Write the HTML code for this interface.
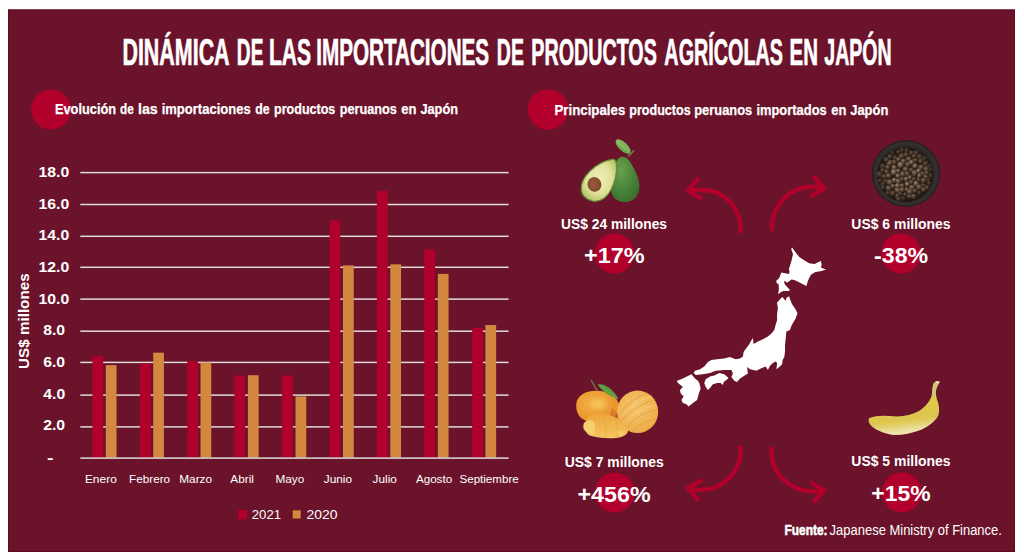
<!DOCTYPE html>
<html lang="es">
<head>
<meta charset="utf-8">
<title>Dinámica de las importaciones de productos agrícolas en Japón</title>
<style>
html,body{margin:0;padding:0;background:#fff;}
body{width:1024px;height:560px;overflow:hidden;position:relative;}
svg{position:absolute;left:0;top:0;display:block;}
text{font-family:"Liberation Sans",Arial,sans-serif;fill:#fff;}
.b{font-weight:bold;}
</style>
</head>
<body>
<svg width="1024" height="560" viewBox="0 0 1024 560">
<rect x="8" y="9.5" width="1007" height="542.5" fill="#6a132b"/>
<rect x="8.5" y="10" width="1006" height="541.5" fill="none" stroke="#5e0b22" stroke-width="1"/>
<text class="b" y="64.8" font-size="36.3" stroke="#fff" stroke-width="0.7"><tspan x="122.43" textLength="106.38" lengthAdjust="spacingAndGlyphs">DINÁMICA</tspan> <tspan x="236.87" textLength="26.52" lengthAdjust="spacingAndGlyphs">DE</tspan> <tspan x="268.94" textLength="42.13" lengthAdjust="spacingAndGlyphs">LAS</tspan> <tspan x="316.18" textLength="172.97" lengthAdjust="spacingAndGlyphs">IMPORTACIONES</tspan> <tspan x="496.85" textLength="27.06" lengthAdjust="spacingAndGlyphs">DE</tspan> <tspan x="531.34" textLength="125.48" lengthAdjust="spacingAndGlyphs">PRODUCTOS</tspan> <tspan x="664.36" textLength="118.56" lengthAdjust="spacingAndGlyphs">AGRÍCOLAS</tspan> <tspan x="789.48" textLength="28.45" lengthAdjust="spacingAndGlyphs">EN</tspan> <tspan x="824.25" textLength="67.41" lengthAdjust="spacingAndGlyphs">JAPÓN</tspan></text>
<circle cx="51" cy="109.6" r="20" fill="#b1002b"/>
<text class="b" y="113.9" font-size="15.2" stroke="#fff" stroke-width="0.25"><tspan x="54.94" textLength="61.15" lengthAdjust="spacingAndGlyphs">Evolución</tspan> <tspan x="120.02" textLength="13.68" lengthAdjust="spacingAndGlyphs">de</tspan> <tspan x="138.01" textLength="19.78" lengthAdjust="spacingAndGlyphs">las</tspan> <tspan x="161.69" textLength="88.94" lengthAdjust="spacingAndGlyphs">importaciones</tspan> <tspan x="255.29" textLength="14.43" lengthAdjust="spacingAndGlyphs">de</tspan> <tspan x="274.07" textLength="61.24" lengthAdjust="spacingAndGlyphs">productos</tspan> <tspan x="339.66" textLength="57.26" lengthAdjust="spacingAndGlyphs">peruanos</tspan> <tspan x="401.29" textLength="15.22" lengthAdjust="spacingAndGlyphs">en</tspan> <tspan x="420.41" textLength="37.58" lengthAdjust="spacingAndGlyphs">Japón</tspan></text>
<circle cx="548" cy="109.5" r="20.2" fill="#b1002b"/>
<text class="b" y="114.7" font-size="15.2" stroke="#fff" stroke-width="0.25"><tspan x="554.41" textLength="70.93" lengthAdjust="spacingAndGlyphs">Principales</tspan> <tspan x="629.27" textLength="61.44" lengthAdjust="spacingAndGlyphs">productos</tspan> <tspan x="694.25" textLength="57.98" lengthAdjust="spacingAndGlyphs">peruanos</tspan> <tspan x="756.4" textLength="70.33" lengthAdjust="spacingAndGlyphs">importados</tspan> <tspan x="831.19" textLength="15.11" lengthAdjust="spacingAndGlyphs">en</tspan> <tspan x="850.2" textLength="38.1" lengthAdjust="spacingAndGlyphs">Japón</tspan></text>
<g fill="#dedbd9">
<rect x="80.3" y="171.85" width="428.3" height="1.5"/>
<rect x="80.3" y="203.75" width="428.3" height="1.5"/>
<rect x="80.3" y="235.55" width="428.3" height="1.5"/>
<rect x="80.3" y="266.55" width="428.3" height="1.5"/>
<rect x="80.3" y="298.35" width="428.3" height="1.5"/>
<rect x="80.3" y="330.45" width="428.3" height="1.5"/>
<rect x="80.3" y="361.65" width="428.3" height="1.5"/>
<rect x="80.3" y="394.35" width="428.3" height="1.5"/>
<rect x="80.3" y="426.15" width="428.3" height="1.5"/>
</g>
<rect x="92.4" y="356.2" width="10.75" height="101.4" fill="#b1002b"/>
<rect x="105.8" y="365.1" width="10.75" height="92.5" fill="#d4873f"/>
<rect x="140.0" y="363.4" width="10.75" height="94.2" fill="#b1002b"/>
<rect x="153.2" y="352.7" width="10.75" height="104.9" fill="#d4873f"/>
<rect x="187.3" y="361.1" width="10.75" height="96.5" fill="#b1002b"/>
<rect x="200.5" y="362.5" width="10.75" height="95.1" fill="#d4873f"/>
<rect x="234.4" y="375.5" width="10.75" height="82.1" fill="#b1002b"/>
<rect x="247.9" y="375.2" width="10.75" height="82.4" fill="#d4873f"/>
<rect x="282.1" y="375.5" width="10.75" height="82.1" fill="#b1002b"/>
<rect x="295.5" y="396.4" width="10.75" height="61.2" fill="#d4873f"/>
<rect x="329.6" y="220.4" width="10.75" height="237.2" fill="#b1002b"/>
<rect x="343.0" y="265.4" width="10.75" height="192.2" fill="#d4873f"/>
<rect x="376.9" y="190.9" width="10.75" height="266.7" fill="#b1002b"/>
<rect x="390.3" y="264.3" width="10.75" height="193.3" fill="#d4873f"/>
<rect x="424.3" y="249.3" width="10.75" height="208.3" fill="#b1002b"/>
<rect x="437.8" y="273.9" width="10.75" height="183.7" fill="#d4873f"/>
<rect x="472.2" y="327.9" width="10.75" height="129.7" fill="#b1002b"/>
<rect x="485.4" y="325.0" width="10.75" height="132.6" fill="#d4873f"/>
<rect x="80.3" y="457.35" width="428.3" height="1.5" fill="#dedbd9"/>
<text class="b" x="38.54" y="176.9" font-size="15.5" textLength="30.77" lengthAdjust="spacingAndGlyphs">18.0</text>
<text class="b" x="38.54" y="208.5" font-size="15.5" textLength="30.77" lengthAdjust="spacingAndGlyphs">16.0</text>
<text class="b" x="38.54" y="240.0" font-size="15.5" textLength="30.77" lengthAdjust="spacingAndGlyphs">14.0</text>
<text class="b" x="38.54" y="271.6" font-size="15.5" textLength="30.77" lengthAdjust="spacingAndGlyphs">12.0</text>
<text class="b" x="38.54" y="304.1" font-size="15.5" textLength="30.77" lengthAdjust="spacingAndGlyphs">10.0</text>
<text class="b" x="43.18" y="335.0" font-size="15.5" textLength="21.98" lengthAdjust="spacingAndGlyphs">8.0</text>
<text class="b" x="43.15" y="366.7" font-size="15.5" textLength="21.98" lengthAdjust="spacingAndGlyphs">6.0</text>
<text class="b" x="43.32" y="399.3" font-size="15.5" textLength="21.98" lengthAdjust="spacingAndGlyphs">4.0</text>
<text class="b" x="43.16" y="430.4" font-size="15.5" textLength="21.98" lengthAdjust="spacingAndGlyphs">2.0</text>
<text class="b" x="47.13" y="462.5" font-size="15.5" textLength="6.56" lengthAdjust="spacingAndGlyphs">-</text>
<g transform="translate(29.4,321) rotate(-90)"><text class="b" x="-47.91" y="0" font-size="15.1" textLength="95.54" lengthAdjust="spacingAndGlyphs">US$ millones</text></g>
<text x="84.92" y="483.1" font-size="11.7" textLength="31.88" lengthAdjust="spacingAndGlyphs">Enero</text>
<text x="129.04" y="483.1" font-size="11.7" textLength="41.05" lengthAdjust="spacingAndGlyphs">Febrero</text>
<text x="179.23" y="483.1" font-size="11.7" textLength="32.87" lengthAdjust="spacingAndGlyphs">Marzo</text>
<text x="230.38" y="483.1" font-size="11.7" textLength="23.61" lengthAdjust="spacingAndGlyphs">Abril</text>
<text x="275.43" y="483.1" font-size="11.7" textLength="28.86" lengthAdjust="spacingAndGlyphs">Mayo</text>
<text x="323.71" y="483.1" font-size="11.7" textLength="28.38" lengthAdjust="spacingAndGlyphs">Junio</text>
<text x="372.51" y="483.1" font-size="11.7" textLength="24.38" lengthAdjust="spacingAndGlyphs">Julio</text>
<text x="415.88" y="483.1" font-size="11.7" textLength="36.31" lengthAdjust="spacingAndGlyphs">Agosto</text>
<text x="459.47" y="483.1" font-size="11.7" textLength="59.24" lengthAdjust="spacingAndGlyphs">Septiembre</text>
<rect x="238.2" y="510" width="8.7" height="9.3" fill="#b1002b"/>
<rect x="292.7" y="510.3" width="8" height="8.2" fill="#d4873f"/>
<text x="251.74" y="518.9" font-size="13.7" textLength="29.31" lengthAdjust="spacingAndGlyphs">2021</text>
<text x="306.4" y="518.9" font-size="13.7" textLength="31.05" lengthAdjust="spacingAndGlyphs">2020</text>
<!-- arrows -->
<g fill="none" stroke="#b1002b" stroke-width="4.4" stroke-linecap="round" stroke-linejoin="round">
<path d="M740.6,231.3 C741.5,208 724,190 703,190 Q695,190.1 687.6,190.7"/>
<path d="M697.6,179.4 L687.6,190.7 L700.4,198.1"/>
<path d="M771.9,229.5 C771.5,205 790,187 812,186.8 Q819,187 824.4,188.5"/>
<path d="M814.6,177.4 L824.4,188.5 L811.3,195.8"/>
<path d="M740.3,446.9 C742.5,472 722,490.5 700,489.9 Q693,489.6 687.9,488"/>
<path d="M700.5,480.8 L687.9,488 L697.6,499.1"/>
<path d="M771.6,448.7 C770,475 792,491.5 813,491.4 Q819,491.2 824.4,490.3"/>
<path d="M811.6,482.9 L824.4,490.3 L814.4,501.2"/>
</g>

<!-- map of Japan -->
<g fill="#ffffff">
<path d="M792.1,247.5 L795.7,252.5 L799.3,257 L804.6,260.5 L809.1,263.2 L814.5,264.1 L820.7,261.1 L821.6,264.1 L821.1,267.7 L826.1,269.5 L820.7,271.3 L815.4,272.1 L810.9,274.8 L808.6,279.3 L807.1,283.6 L806.4,286.1 L802.9,284.3 L798.6,282.1 L794.3,280 L791.4,279.6 L788.6,281.8 L786.4,282.5 L785,281.1 L783.9,281.8 L785,284.6 L787.1,287.1 L789.6,289.6 L789.3,291.1 L783.2,291.1 L780.4,292.5 L778.2,294.3 L778.9,288.6 L778.6,284.6 L776.8,282.9 L776.1,281.1 L779.3,277.9 L780.4,275 L781.4,272.5 L785,273.2 L788.9,273.9 L789.6,272.1 L788.9,268.9 L791.3,261.4 L793,254.3 L791.2,249 Z"/>
<path d="M776.8,302.9 L780.7,298.6 L782.5,297.1 L785.4,300.7 L787.1,297.1 L789.3,296.4 L790,299.3 L792.1,304.3 L795.7,309.6 L797.5,313.2 L795.7,318.6 L793.5,322 L791.4,325.7 L790,330 L786.4,331.4 L785.7,338.6 L785,345.7 L785,351.4 L784.3,357.1 L782.6,360 L782.1,364.3 L779.3,367.1 L776.4,369.3 L777.1,362.9 L775.7,361.4 L772.9,362.9 L770,365.7 L767.9,370 L765.7,366.4 L760.7,368.6 L756.4,370.7 L750,369.3 L747.1,367.1 L747.9,373.6 L744.3,375.7 L740,378.6 L737.1,382.1 L734.3,380.7 L731.4,377.1 L732.9,373.6 L731.4,370 L724.3,370 L715.7,370.7 L710,372.9 L702.9,374.3 L695.7,375 L693.6,372.9 L695,370.7 L700,369.3 L704.3,366.4 L707.9,362.1 L711.4,360 L717.1,359.3 L724.3,358.6 L730,357.1 L735.7,359.3 L740,358.6 L742.9,356.4 L743.6,352.1 L746.4,347.9 L749.3,344.3 L751.1,340.7 L752.9,337.9 L753.6,344 L757.9,341.4 L762.9,339.3 L767.9,336.4 L771.4,333.6 L774.3,330 L775.4,325.7 L777.1,320 L777,315 L777.9,307.9 L777,302.5 Z"/>
<path d="M705.7,379.3 L710,376.4 L714.3,375.4 L719.3,372.9 L724.3,374.3 L728.6,377.9 L726.4,380 L723.6,382.1 L722.9,385 L720.7,382.9 L717.1,382.9 L712.9,384.3 L710,387.9 L707.9,390 L705.7,387.1 L704.3,382.9 Z"/>
<path d="M677.1,380.7 L682.9,378.6 L691.4,374.3 L695,378.6 L697.9,380.7 L699.3,382.9 L700.7,388.6 L698.6,394.3 L697.1,400 L692.9,402.9 L688.6,406.4 L686.4,404.3 L682.9,402.9 L681.4,400 L683.6,396.4 L680.7,393.6 L680,390 L682.9,387.1 L678.6,383.6 L677.1,382.1 Z"/>
</g>


<!-- PRODUCT IMAGES -->
<defs>
 <radialGradient id="avoSkin" cx="0.35" cy="0.3" r="0.85">
   <stop offset="0" stop-color="#6a9f4c"/>
   <stop offset="0.55" stop-color="#478338"/>
   <stop offset="1" stop-color="#36672b"/>
 </radialGradient>
 <radialGradient id="avoFlesh" cx="0.5" cy="0.45" r="0.6">
   <stop offset="0" stop-color="#f0edb6"/>
   <stop offset="0.6" stop-color="#e2e19a"/>
   <stop offset="1" stop-color="#b0c266"/>
 </radialGradient>
 <radialGradient id="avoSeed" cx="0.45" cy="0.45" r="0.6">
   <stop offset="0" stop-color="#a2573b"/>
   <stop offset="1" stop-color="#7a4a2e"/>
 </radialGradient>
 <linearGradient id="leafG" x1="0" y1="0" x2="1" y2="1">
   <stop offset="0" stop-color="#8cc468"/>
   <stop offset="1" stop-color="#62a045"/>
 </linearGradient>
 <radialGradient id="pc1" cx="0.38" cy="0.33" r="0.72">
   <stop offset="0" stop-color="#a08a76"/>
   <stop offset="0.5" stop-color="#65503f"/>
   <stop offset="1" stop-color="#241a14"/>
 </radialGradient>
 <radialGradient id="pc2" cx="0.38" cy="0.33" r="0.72">
   <stop offset="0" stop-color="#8a735f"/>
   <stop offset="0.5" stop-color="#564333"/>
   <stop offset="1" stop-color="#1f1611"/>
 </radialGradient>
 <radialGradient id="pc3" cx="0.38" cy="0.33" r="0.72">
   <stop offset="0" stop-color="#756252"/>
   <stop offset="0.5" stop-color="#4a392d"/>
   <stop offset="1" stop-color="#1c1510"/>
 </radialGradient>
 <radialGradient id="pepVig" cx="0.5" cy="0.5" r="0.5">
   <stop offset="0.6" stop-color="#140e0b" stop-opacity="0"/>
   <stop offset="1" stop-color="#140e0b" stop-opacity="0.55"/>
 </radialGradient>
 <radialGradient id="bowlG" cx="0.5" cy="0.5" r="0.5">
   <stop offset="0.78" stop-color="#2a2527"/>
   <stop offset="0.92" stop-color="#36302f"/>
   <stop offset="1" stop-color="#1f1b1d"/>
 </radialGradient>
 <radialGradient id="manL" cx="0.4" cy="0.38" r="0.75">
   <stop offset="0" stop-color="#f3b449"/>
   <stop offset="0.55" stop-color="#ec9c30"/>
   <stop offset="1" stop-color="#e48c26"/>
 </radialGradient>
 <radialGradient id="manR" cx="0.45" cy="0.4" r="0.7">
   <stop offset="0" stop-color="#f5c66e"/>
   <stop offset="0.7" stop-color="#f0b24f"/>
   <stop offset="1" stop-color="#e9a445"/>
 </radialGradient>
 <radialGradient id="manHi" cx="0.5" cy="0.5" r="0.5">
   <stop offset="0" stop-color="#f8cc62" stop-opacity="0.85"/>
   <stop offset="1" stop-color="#f8cc62" stop-opacity="0"/>
 </radialGradient>
 <linearGradient id="segG" x1="0" y1="0" x2="0" y2="1">
   <stop offset="0" stop-color="#efa73c"/>
   <stop offset="1" stop-color="#f4c563"/>
 </linearGradient>
 <linearGradient id="banG" x1="0" y1="0" x2="0.15" y2="1">
   <stop offset="0" stop-color="#ddd27c"/>
   <stop offset="0.4" stop-color="#e0cb48"/>
   <stop offset="0.78" stop-color="#dcc452"/>
   <stop offset="1" stop-color="#efe5ac"/>
 </linearGradient>
</defs>

<g id="avocado">
 <path d="M628.5,156 L633.8,150.8" stroke="#7d8a4e" stroke-width="1.3" fill="none" stroke-linecap="round"/>
 <ellipse cx="623.2" cy="146.6" rx="9.6" ry="4.2" transform="rotate(43 623.2 146.6)" fill="url(#leafG)"/>
 <path d="M617.5,142 Q623,147 628.8,151.5" stroke="#a9d48a" stroke-width="0.6" fill="none"/>
 <path d="M621.25,156.9 C616,158 614,166 612.5,175 C611,183 610.5,192 613,196 C616,201 622,202.5 627,202 C634,201 638.5,196 639.4,188 C640,180 636,172 632,165 C629.5,160 626,156.5 621.25,156.9 Z" fill="url(#avoSkin)"/>
 <path d="M612.5,159.4 C606,160 597,164.5 590,171 C584,177 581,184 581.2,189 C581.5,195 586,199.5 593,201.2 C601,202 607,197 611,190 C615,182 617,172 616.5,165 C616.2,161 615,159.2 612.5,159.4 Z" fill="url(#avoFlesh)" stroke="#5f8f3a" stroke-width="1.2"/>
 <ellipse cx="594.4" cy="184.4" rx="6.9" ry="7.4" transform="rotate(-20 594.4 184.4)" fill="url(#avoSeed)"/>
</g>

<g id="pepper">
 <ellipse cx="906" cy="173.5" rx="34.2" ry="33.4" fill="url(#bowlG)"/>
 <ellipse cx="905.3" cy="174.8" rx="27.8" ry="27" fill="#2a1f19"/>
 <clipPath id="pepClip"><ellipse cx="905.3" cy="174.8" rx="28.2" ry="27.4"/></clipPath>
 <g clip-path="url(#pepClip)">
 <circle cx="912.1" cy="187.8" r="3.2" fill="url(#pc2)"/>
<circle cx="903.4" cy="198.6" r="3.1" fill="url(#pc3)"/>
<circle cx="903.6" cy="161.2" r="3.0" fill="url(#pc2)"/>
<circle cx="889.7" cy="163.0" r="3.3" fill="url(#pc1)"/>
<circle cx="920.0" cy="156.6" r="3.2" fill="url(#pc2)"/>
<circle cx="885.4" cy="181.1" r="2.6" fill="url(#pc3)"/>
<circle cx="925.9" cy="163.5" r="3.4" fill="url(#pc2)"/>
<circle cx="907.5" cy="184.3" r="2.7" fill="url(#pc1)"/>
<circle cx="894.2" cy="167.4" r="2.6" fill="url(#pc1)"/>
<circle cx="894.3" cy="180.3" r="2.5" fill="url(#pc1)"/>
<circle cx="915.1" cy="166.1" r="2.8" fill="url(#pc1)"/>
<circle cx="922.9" cy="173.8" r="2.8" fill="url(#pc3)"/>
<circle cx="919.1" cy="193.3" r="2.5" fill="url(#pc2)"/>
<circle cx="921.2" cy="167.6" r="3.0" fill="url(#pc2)"/>
<circle cx="888.5" cy="188.5" r="3.3" fill="url(#pc1)"/>
<circle cx="929.7" cy="166.5" r="2.8" fill="url(#pc3)"/>
<circle cx="906.7" cy="189.6" r="2.6" fill="url(#pc2)"/>
<circle cx="882.7" cy="166.3" r="3.0" fill="url(#pc2)"/>
<circle cx="907.8" cy="164.7" r="2.8" fill="url(#pc2)"/>
<circle cx="879.5" cy="174.5" r="3.3" fill="url(#pc1)"/>
<circle cx="901.7" cy="156.0" r="3.3" fill="url(#pc2)"/>
<circle cx="894.0" cy="172.3" r="3.4" fill="url(#pc1)"/>
<circle cx="902.7" cy="174.2" r="3.2" fill="url(#pc2)"/>
<circle cx="897.6" cy="190.1" r="3.2" fill="url(#pc1)"/>
<circle cx="916.0" cy="183.6" r="3.2" fill="url(#pc1)"/>
<circle cx="913.6" cy="179.1" r="2.5" fill="url(#pc3)"/>
<circle cx="930.5" cy="175.8" r="3.0" fill="url(#pc2)"/>
<circle cx="886.5" cy="171.6" r="3.1" fill="url(#pc2)"/>
<circle cx="895.2" cy="157.7" r="2.7" fill="url(#pc3)"/>
<circle cx="911.6" cy="153.1" r="3.0" fill="url(#pc2)"/>
<circle cx="897.1" cy="195.9" r="2.5" fill="url(#pc1)"/>
<circle cx="898.4" cy="171.1" r="2.7" fill="url(#pc2)"/>
<circle cx="928.1" cy="179.9" r="2.7" fill="url(#pc2)"/>
<circle cx="900.6" cy="165.1" r="3.4" fill="url(#pc1)"/>
<circle cx="920.9" cy="161.2" r="2.7" fill="url(#pc2)"/>
<circle cx="918.8" cy="179.7" r="2.5" fill="url(#pc3)"/>
<circle cx="924.7" cy="158.5" r="2.8" fill="url(#pc2)"/>
<circle cx="923.9" cy="185.2" r="2.9" fill="url(#pc3)"/>
<circle cx="889.8" cy="182.6" r="3.4" fill="url(#pc2)"/>
<circle cx="911.4" cy="170.2" r="2.6" fill="url(#pc3)"/>
<circle cx="898.6" cy="151.9" r="2.6" fill="url(#pc2)"/>
<circle cx="919.1" cy="175.7" r="2.6" fill="url(#pc1)"/>
<circle cx="882.4" cy="183.8" r="2.6" fill="url(#pc1)"/>
<circle cx="915.3" cy="160.0" r="2.6" fill="url(#pc2)"/>
<circle cx="914.9" cy="173.3" r="3.4" fill="url(#pc2)"/>
<circle cx="905.8" cy="169.6" r="3.0" fill="url(#pc2)"/>
<circle cx="907.5" cy="174.1" r="3.0" fill="url(#pc3)"/>
<circle cx="898.5" cy="181.5" r="3.2" fill="url(#pc2)"/>
<circle cx="910.0" cy="192.3" r="3.2" fill="url(#pc2)"/>
<circle cx="926.4" cy="169.0" r="2.7" fill="url(#pc1)"/>
<circle cx="905.9" cy="179.4" r="2.7" fill="url(#pc1)"/>
<circle cx="892.9" cy="186.4" r="2.6" fill="url(#pc2)"/>
<circle cx="894.6" cy="162.3" r="3.1" fill="url(#pc3)"/>
<circle cx="919.5" cy="187.5" r="3.2" fill="url(#pc2)"/>
<circle cx="906.4" cy="150.7" r="2.9" fill="url(#pc2)"/>
<circle cx="892.7" cy="153.1" r="2.9" fill="url(#pc3)"/>
<circle cx="916.5" cy="152.8" r="2.6" fill="url(#pc1)"/>
<circle cx="908.9" cy="159.1" r="2.9" fill="url(#pc2)"/>
<circle cx="905.0" cy="194.7" r="2.5" fill="url(#pc3)"/>
<circle cx="886.3" cy="159.6" r="2.7" fill="url(#pc1)"/>
<circle cx="909.3" cy="196.9" r="2.6" fill="url(#pc2)"/>
<circle cx="884.0" cy="176.8" r="2.6" fill="url(#pc2)"/>
<circle cx="923.8" cy="189.9" r="2.7" fill="url(#pc1)"/>
<circle cx="883.0" cy="187.8" r="2.8" fill="url(#pc2)"/>
<circle cx="929.4" cy="183.6" r="2.5" fill="url(#pc2)"/>
<circle cx="913.9" cy="196.7" r="3.1" fill="url(#pc1)"/>
<circle cx="892.4" cy="193.9" r="3.4" fill="url(#pc2)"/>
<circle cx="902.1" cy="185.8" r="2.6" fill="url(#pc2)"/>
<circle cx="926.0" cy="176.6" r="2.6" fill="url(#pc1)"/>
<circle cx="888.6" cy="176.0" r="2.7" fill="url(#pc2)"/>
<circle cx="915.3" cy="191.4" r="2.9" fill="url(#pc3)"/>
<circle cx="927.4" cy="187.7" r="2.6" fill="url(#pc1)"/>
<circle cx="897.9" cy="176.0" r="2.5" fill="url(#pc1)"/>
<circle cx="887.8" cy="167.4" r="2.8" fill="url(#pc2)"/>
<circle cx="911.5" cy="162.5" r="2.6" fill="url(#pc1)"/>
<circle cx="889.9" cy="156.6" r="2.6" fill="url(#pc1)"/>
<circle cx="900.6" cy="193.9" r="2.7" fill="url(#pc3)"/>
<circle cx="880.0" cy="180.9" r="2.6" fill="url(#pc2)"/>
<circle cx="923.8" cy="180.7" r="3.0" fill="url(#pc2)"/>
<circle cx="902.3" cy="190.0" r="2.7" fill="url(#pc2)"/>
<circle cx="898.6" cy="159.4" r="2.6" fill="url(#pc2)"/>
<circle cx="902.1" cy="150.3" r="2.8" fill="url(#pc2)"/>
<circle cx="931.0" cy="170.2" r="2.6" fill="url(#pc3)"/>
<circle cx="918.7" cy="170.8" r="2.5" fill="url(#pc1)"/>
<circle cx="887.8" cy="193.4" r="2.6" fill="url(#pc2)"/>
<circle cx="914.3" cy="156.3" r="2.6" fill="url(#pc2)"/>
<circle cx="909.9" cy="177.6" r="2.5" fill="url(#pc2)"/>
<circle cx="882.4" cy="170.6" r="2.6" fill="url(#pc2)"/>
<circle cx="906.2" cy="154.8" r="2.6" fill="url(#pc2)"/>
<circle cx="898.5" cy="199.3" r="2.6" fill="url(#pc1)"/>
<circle cx="897.5" cy="185.8" r="2.6" fill="url(#pc1)"/>
<circle cx="902.1" cy="179.3" r="2.5" fill="url(#pc3)"/>
<circle cx="911.4" cy="182.4" r="2.6" fill="url(#pc3)"/>
<circle cx="927.1" cy="172.9" r="2.6" fill="url(#pc2)"/>
 </g>
 <ellipse cx="905.3" cy="174.8" rx="28" ry="27.2" fill="url(#pepVig)"/>
</g>

<g id="mandarin">
 <path d="M591.3,380.3 Q594,386 597.5,391" stroke="#6f8a4a" stroke-width="1.2" fill="none" stroke-linecap="round"/>
 <path d="M576.2,405 C576.5,396 585,390.8 596,390.8 C607,390.8 616,395 618.5,403 C620,410 616,418 608,421.5 C600,424 588,423.5 581,418 C577.5,414.5 576,410 576.2,405 Z" fill="url(#manL)"/>
 <ellipse cx="599" cy="404" rx="11" ry="8" fill="url(#manHi)"/>
 <ellipse cx="637.6" cy="411.8" rx="20.6" ry="21.2" fill="url(#manR)"/>
 <path d="M612,408 C616,410 618.5,416 618.5,424 L611,424 C610,418 610,412 612,408 Z" fill="#d8702a" opacity="0.75"/>
 <g stroke="#e39a40" stroke-width="1" fill="none" opacity="0.75">
  <path d="M621,412 Q632,398 648,393"/>
  <path d="M621,421 Q636,404 655,400"/>
  <path d="M626,428 Q640,412 657,410"/>
  <path d="M633,431 Q645,420 656,419"/>
 </g>
 <g stroke="#f9d996" stroke-width="0.9" fill="none" opacity="0.6">
  <path d="M622,416 Q634,401 652,396"/>
  <path d="M623,425 Q638,408 656,405"/>
 </g>
 <path d="M614,416 C617,420 619,426 619,431" stroke="#c9602a" stroke-width="2" fill="none" opacity="0.6"/>
 <path d="M588.5,416.5 C595,413.5 605,413.8 613.5,416.5 C620,419 626,423.5 628,429 C628.6,434 624.5,437.2 616,438 C606,438.6 596,437.8 589,435.2 C584.5,432.5 584,421 588.5,416.5 Z" fill="url(#segG)"/>
 <path d="M583.5,424 C585.5,420.5 590,419.5 593.5,421 C595.5,426 595.5,431 593.5,435.5 C589,435 585,432 583.3,428 Z" fill="#f4d06e"/>
 <path d="M603,414.5 Q608,426 605.5,438 M615,417 Q619,427 617,438" stroke="#e39a3c" stroke-width="0.8" fill="none" opacity="0.6"/>
 <ellipse cx="621" cy="433" rx="4" ry="2.5" fill="#f2cf70" opacity="0.7"/>
 <path d="M598,384.5 C604,383 613,388 618.5,399.3 C611,397 602,392 598,384.5 Z" fill="#5a9a3c"/>
 <path d="M598.5,385 Q608,391 618,399" stroke="#85b860" stroke-width="0.6" fill="none"/>
</g>

<g id="banana">
 <path d="M868.9,418.3 C875,415.5 885,415.2 896.3,416.6 C905,416.3 913,414.5 919,411 C926,406.5 931,400 932,394 C932.5,390 932.5,386 933.5,383.5 L936.3,381.1 L939.7,381.7 L938,385.1 C935.5,389 935.3,393 936.5,398 C938.5,403 940,409 938.5,415 C936,421 929,426 921.4,429.7 C912,433 903,435 895,435 C886,434.5 878,431 872,426.5 C869,424 868,421 868.9,418.3 Z" fill="url(#banG)"/>
 <path d="M933.5,383.5 L936.3,381.1 L939.7,381.7 L938,385.1 C935.5,389 935.3,393 936.5,398 L932,396 C932.5,390 932.5,386 933.5,383.5 Z" fill="#cdc679"/>
 <path d="M936.3,381.1 L939.7,381.7 L938.6,383.6 L935.6,383 Z" fill="#e8dcc0"/>
 <path d="M874,422 C888,425 906,424 920,418 C928,414 933,408 935,401" stroke="#e6cf40" stroke-width="2.2" fill="none" opacity="0.5"/>
</g>

<circle cx="614.4" cy="253.4" r="20" fill="#b1002b"/>
<circle cx="901" cy="253.4" r="20" fill="#b1002b"/>
<circle cx="614.7" cy="492.4" r="20" fill="#b1002b"/>
<circle cx="901.7" cy="492.3" r="20" fill="#b1002b"/>
<text class="b" x="560.97" y="228.7" font-size="15.1" textLength="106.1" lengthAdjust="spacingAndGlyphs">US$ 24 millones</text>
<text class="b" x="851.36" y="228.7" font-size="15.1" textLength="99.21" lengthAdjust="spacingAndGlyphs">US$ 6 millones</text>
<text class="b" x="564.66" y="467.4" font-size="15.1" textLength="99.21" lengthAdjust="spacingAndGlyphs">US$ 7 millones</text>
<text class="b" x="851.36" y="466.2" font-size="15.1" textLength="99.21" lengthAdjust="spacingAndGlyphs">US$ 5 millones</text>
<text class="b" x="584.02" y="263.1" font-size="22.4" textLength="60.6" lengthAdjust="spacingAndGlyphs">+17%</text>
<text class="b" x="874.1" y="263.1" font-size="22.4" textLength="54.01" lengthAdjust="spacingAndGlyphs">-38%</text>
<text class="b" x="577.52" y="501.9" font-size="22.4" textLength="73.09" lengthAdjust="spacingAndGlyphs">+456%</text>
<text class="b" x="871.34" y="500.6" font-size="22.4" textLength="59.16" lengthAdjust="spacingAndGlyphs">+15%</text>
<text y="535" font-size="14"><tspan x="784.61" textLength="42.83" lengthAdjust="spacingAndGlyphs" font-weight="bold" stroke="#fff" stroke-width="0.55">Fuente:</tspan> <tspan x="829.6" textLength="172.29" lengthAdjust="spacingAndGlyphs">Japanese Ministry of Finance.</tspan></text>
</svg>
</body>
</html>
